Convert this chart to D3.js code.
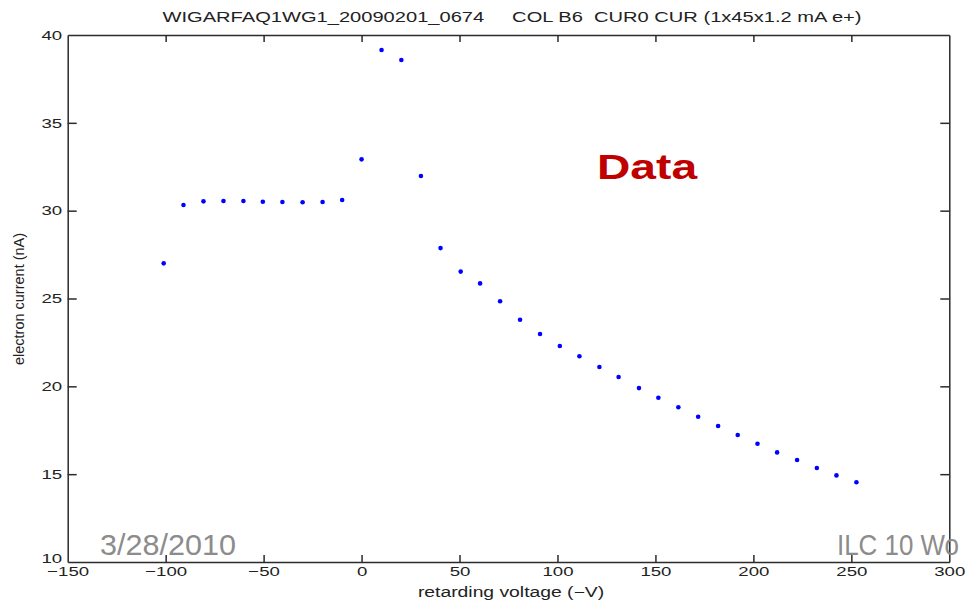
<!DOCTYPE html>
<html>
<head>
<meta charset="utf-8">
<script src="https://cdn.jsdelivr.net/npm/d3@7"></script>
<style>
  body { margin: 0; background: #fff; overflow: hidden; }
  text { font-family: "Liberation Sans", Arial, sans-serif; }
</style>
</head>
<body>
<div class="chart"></div>
<script>
// retarding field analyser scan
const voltage = [-101, -90.9, -80.7, -70.5, -60.3, -50.4, -40.4, -30.1, -19.9, -9.9,
    0, 10.2, 20.3, 30.3, 40.3, 50.6, 60.5, 70.7, 80.9, 91.1, 101.2, 111.2, 121.4, 131.2,
    141.6, 151.5, 161.7, 171.8, 182.0, 192.0, 202.1, 212.1, 222.3, 232.4, 242.4, 252.6];
const current = [27.0, 30.32, 30.53, 30.55, 30.55, 30.51, 30.49, 30.48, 30.49, 30.61,
    32.92, 39.15, 38.58, 31.97, 27.87, 26.53, 25.86, 24.84, 23.79, 22.98, 22.30, 21.71, 21.10, 20.53,
    19.90, 19.35, 18.81, 18.27, 17.74, 17.23, 16.73, 16.24, 15.81, 15.35, 14.93, 14.54];
const xTicks = [-150, -100, -50, 0, 50, 100, 150, 200, 250, 300];
const yTicks = [10, 15, 20, 25, 30, 35, 40];

const titleText = "WIGARFAQ1WG1_20090201_0674     COL B6  CUR0 CUR (1x45x1.2 mA e+)";
const xLabel = "retarding voltage (\u2212V)";
const yLabel = "electron current (nA)";

let width = 965,
    height = 601;
let plotLeft = 67.7, plotRight = 949.3, plotTop = 35, plotBottom = 562;
let stretch = 1.38;

let svg = d3.select('.chart').append('svg')
    .attr('width', width)
    .attr('height', height);

svg.append('rect').attr('width', width).attr('height', height).attr('fill', '#fff');

let x = d3.scaleLinear().domain([-150, 300]).range([plotLeft, plotRight]);
let y = d3.scaleLinear().domain([10, 40]).range([plotBottom, plotTop]);

// frame with inward ticks on all four sides
let xAxis = svg.append('g')
    .attr('transform', `translate(0,${plotBottom})`)
    .call(d3.axisBottom(x).tickValues(xTicks).tickSize(-7).tickSizeOuter(0).tickPadding(4.5));
let topAxis = svg.append('g')
    .attr('transform', `translate(0,${plotTop})`)
    .call(d3.axisTop(x).tickValues(xTicks).tickSize(-7).tickSizeOuter(0).tickFormat(''));
let yAxis = svg.append('g')
    .attr('transform', `translate(${plotLeft},0)`)
    .call(d3.axisLeft(y).tickValues(yTicks).tickSize(-9).tickSizeOuter(0).tickPadding(4));
let rightAxis = svg.append('g')
    .attr('transform', `translate(${plotRight},0)`)
    .call(d3.axisRight(y).tickValues(yTicks).tickSize(-9).tickSizeOuter(0).tickFormat(''));

svg.selectAll('.domain, .tick line')
    .attr('stroke', '#2b2b2b')
    .attr('stroke-width', 1.5);

svg.selectAll('.tick text')
    .attr('font-family', '"Liberation Sans", Arial, sans-serif')
    .attr('font-size', 13.5)
    .attr('fill', '#222')
    .attr('transform', `scale(${stretch},1)`);

// the lowest y label sits just above the -150 label
yAxis.selectAll('.tick text').filter(d => d === 10).attr('dy', '0.05em');

// the end ticks at the corners are hidden in the frame
xAxis.selectAll('.tick line').filter(d => d === -150 || d === 300).remove();
topAxis.selectAll('.tick line').filter(d => d === -150 || d === 300).remove();
yAxis.selectAll('.tick line').filter(d => d === 10 || d === 40).remove();
rightAxis.selectAll('.tick line').filter(d => d === 10 || d === 40).remove();

svg.append('text')
    .attr('x', 512)
    .attr('y', 22)
    .attr('text-anchor', 'middle')
    .attr('xml:space', 'preserve')
    .style('white-space', 'pre')
    .attr('font-size', 14)
    .attr('fill', '#222')
    .attr('textLength', 699)
    .attr('lengthAdjust', 'spacingAndGlyphs')
    .text(titleText);

svg.append('text')
    .attr('transform', `translate(511,597) scale(${stretch},1)`)
    .attr('text-anchor', 'middle')
    .attr('font-size', 14)
    .attr('fill', '#222')
    .text(xLabel);

svg.append('text')
    .attr('transform', 'translate(24,299) rotate(-90)')
    .attr('text-anchor', 'middle')
    .attr('font-size', 14.5)
    .attr('fill', '#222')
    .text(yLabel);

svg.append('g')
    .selectAll('circle')
    .data(voltage)
    .join('circle')
    .attr('cx', d => x(d))
    .attr('cy', (d, i) => y(current[i]))
    .attr('r', 2.3)
    .attr('fill', '#0000ff');

// slide overlays
svg.append('text')
    .attr('transform', 'translate(597,179) scale(1.32,1)')
    .attr('font-size', 35)
    .attr('font-weight', 'bold')
    .attr('fill', '#c00000')
    .text('Data');

svg.append('text')
    .attr('x', 100)
    .attr('y', 555)
    .attr('font-family', 'Lato, "Liberation Sans", sans-serif')
    .attr('font-size', 30)
    .attr('fill', '#8c8c8c')
    .attr('textLength', 136)
    .attr('lengthAdjust', 'spacingAndGlyphs')
    .text('3/28/2010');

svg.append('text')
    .attr('x', 837)
    .attr('y', 555)
    .attr('font-family', 'Lato, "Liberation Sans", sans-serif')
    .attr('font-size', 30)
    .attr('fill', '#8c8c8c')
    .attr('textLength', 122)
    .attr('lengthAdjust', 'spacingAndGlyphs')
    .text('ILC 10 Wo');
</script>
</body>
</html>
